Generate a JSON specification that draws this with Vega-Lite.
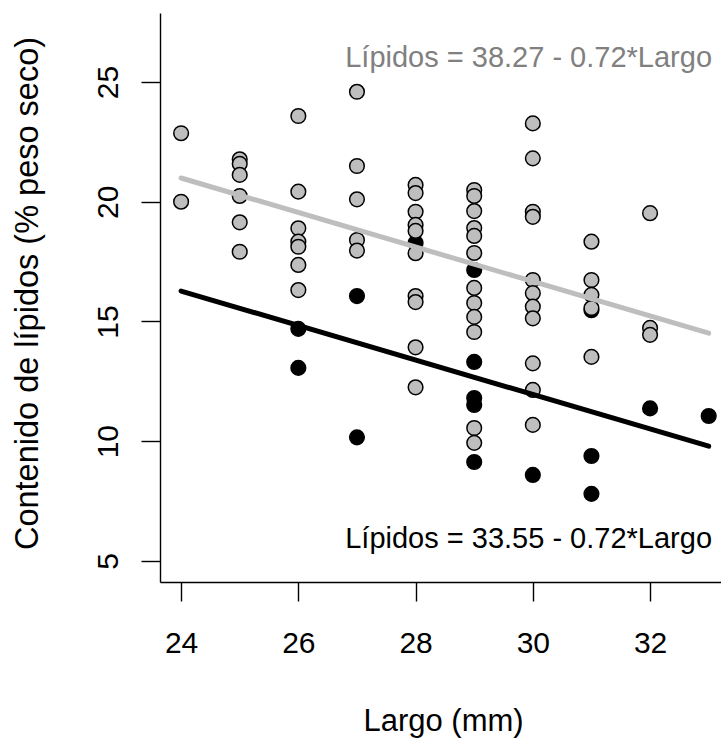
{
  "$schema": "https://vega.github.io/schema/vega-lite/v6.json",
  "width": 561,
  "height": 569,
  "autosize": {"type": "none"},
  "padding": {"left": 160, "top": 13, "right": 0, "bottom": 158},
  "background": "white",
  "config": {
    "view": {"stroke": null},
    "font": "Liberation Sans",
    "axis": {
      "grid": false,
      "domainColor": "#000000",
      "domainWidth": 1.4,
      "tickColor": "#000000",
      "tickWidth": 1.4,
      "tickSize": 19,
      "labelFont": "Liberation Sans",
      "labelFontSize": 30,
      "labelColor": "#000000",
      "titleFont": "Liberation Sans",
      "titleFontSize": 31,
      "titleFontWeight": "normal",
      "titleColor": "#000000"
    }
  },
  "datasets": {
    "puntos": [
      {"grupo": "negro", "largo": 26, "lipidos": 14.69},
      {"grupo": "negro", "largo": 26, "lipidos": 13.06},
      {"grupo": "negro", "largo": 27, "lipidos": 16.06},
      {"grupo": "negro", "largo": 27, "lipidos": 10.16},
      {"grupo": "negro", "largo": 28, "lipidos": 18.28},
      {"grupo": "negro", "largo": 29, "lipidos": 17.15},
      {"grupo": "negro", "largo": 29, "lipidos": 13.31},
      {"grupo": "negro", "largo": 29, "lipidos": 11.80},
      {"grupo": "negro", "largo": 29, "lipidos": 11.51},
      {"grupo": "negro", "largo": 29, "lipidos": 9.13},
      {"grupo": "negro", "largo": 30, "lipidos": 8.59},
      {"grupo": "negro", "largo": 31, "lipidos": 15.47},
      {"grupo": "negro", "largo": 31, "lipidos": 9.38},
      {"grupo": "negro", "largo": 31, "lipidos": 7.80},
      {"grupo": "negro", "largo": 32, "lipidos": 11.37},
      {"grupo": "negro", "largo": 33, "lipidos": 11.05},
      {"grupo": "gris", "largo": 24, "lipidos": 22.86},
      {"grupo": "gris", "largo": 24, "lipidos": 20.00},
      {"grupo": "gris", "largo": 25, "lipidos": 21.77},
      {"grupo": "gris", "largo": 25, "lipidos": 21.58},
      {"grupo": "gris", "largo": 25, "lipidos": 21.12},
      {"grupo": "gris", "largo": 25, "lipidos": 20.24},
      {"grupo": "gris", "largo": 25, "lipidos": 19.14},
      {"grupo": "gris", "largo": 25, "lipidos": 17.91},
      {"grupo": "gris", "largo": 26, "lipidos": 23.58},
      {"grupo": "gris", "largo": 26, "lipidos": 20.42},
      {"grupo": "gris", "largo": 26, "lipidos": 18.89},
      {"grupo": "gris", "largo": 26, "lipidos": 18.33},
      {"grupo": "gris", "largo": 26, "lipidos": 18.12},
      {"grupo": "gris", "largo": 26, "lipidos": 17.36},
      {"grupo": "gris", "largo": 26, "lipidos": 16.31},
      {"grupo": "gris", "largo": 27, "lipidos": 24.59},
      {"grupo": "gris", "largo": 27, "lipidos": 21.49},
      {"grupo": "gris", "largo": 27, "lipidos": 20.10},
      {"grupo": "gris", "largo": 27, "lipidos": 18.40},
      {"grupo": "gris", "largo": 27, "lipidos": 17.96},
      {"grupo": "gris", "largo": 28, "lipidos": 20.70},
      {"grupo": "gris", "largo": 28, "lipidos": 20.36},
      {"grupo": "gris", "largo": 28, "lipidos": 19.58},
      {"grupo": "gris", "largo": 28, "lipidos": 19.03},
      {"grupo": "gris", "largo": 28, "lipidos": 18.78},
      {"grupo": "gris", "largo": 28, "lipidos": 17.85},
      {"grupo": "gris", "largo": 28, "lipidos": 16.06},
      {"grupo": "gris", "largo": 28, "lipidos": 15.81},
      {"grupo": "gris", "largo": 28, "lipidos": 13.92},
      {"grupo": "gris", "largo": 28, "lipidos": 12.25},
      {"grupo": "gris", "largo": 29, "lipidos": 20.49},
      {"grupo": "gris", "largo": 29, "lipidos": 20.24},
      {"grupo": "gris", "largo": 29, "lipidos": 19.61},
      {"grupo": "gris", "largo": 29, "lipidos": 18.90},
      {"grupo": "gris", "largo": 29, "lipidos": 18.57},
      {"grupo": "gris", "largo": 29, "lipidos": 17.86},
      {"grupo": "gris", "largo": 29, "lipidos": 16.40},
      {"grupo": "gris", "largo": 29, "lipidos": 15.77},
      {"grupo": "gris", "largo": 29, "lipidos": 15.19},
      {"grupo": "gris", "largo": 29, "lipidos": 14.56},
      {"grupo": "gris", "largo": 29, "lipidos": 10.55},
      {"grupo": "gris", "largo": 29, "lipidos": 9.93},
      {"grupo": "gris", "largo": 30, "lipidos": 23.27},
      {"grupo": "gris", "largo": 30, "lipidos": 21.81},
      {"grupo": "gris", "largo": 30, "lipidos": 19.58},
      {"grupo": "gris", "largo": 30, "lipidos": 19.37},
      {"grupo": "gris", "largo": 30, "lipidos": 16.73},
      {"grupo": "gris", "largo": 30, "lipidos": 16.18},
      {"grupo": "gris", "largo": 30, "lipidos": 15.62},
      {"grupo": "gris", "largo": 30, "lipidos": 15.13},
      {"grupo": "gris", "largo": 30, "lipidos": 13.25},
      {"grupo": "gris", "largo": 30, "lipidos": 12.14},
      {"grupo": "gris", "largo": 30, "lipidos": 10.68},
      {"grupo": "gris", "largo": 31, "lipidos": 18.33},
      {"grupo": "gris", "largo": 31, "lipidos": 16.73},
      {"grupo": "gris", "largo": 31, "lipidos": 16.11},
      {"grupo": "gris", "largo": 31, "lipidos": 15.56},
      {"grupo": "gris", "largo": 31, "lipidos": 13.52},
      {"grupo": "gris", "largo": 32, "lipidos": 19.52},
      {"grupo": "gris", "largo": 32, "lipidos": 14.73},
      {"grupo": "gris", "largo": 32, "lipidos": 14.44}
    ],
    "lineas": [
      {"grupo": "gris", "largo": 24, "lipidos": 20.99},
      {"grupo": "gris", "largo": 33, "lipidos": 14.51},
      {"grupo": "negro", "largo": 24, "lipidos": 16.27},
      {"grupo": "negro", "largo": 33, "lipidos": 9.79}
    ],
    "textos": [
      {"grupo": "gris", "largo": 33.057, "lipidos": 25.63, "etiqueta": "Lípidos = 38.27 - 0.72*Largo"},
      {"grupo": "negro", "largo": 33.057, "lipidos": 5.54, "etiqueta": "Lípidos = 33.55 - 0.72*Largo"}
    ]
  },
  "encoding": {
    "x": {
      "field": "largo",
      "type": "quantitative",
      "scale": {"domain": [23.64, 33.21], "nice": false, "zero": false},
      "axis": {
        "values": [24, 26, 28, 30, 32],
        "title": "Largo (mm)",
        "labelBaseline": "alphabetic",
        "labelPadding": 51,
        "labelAlign": "center",
        "titleX": 283,
        "titleY": 148,
        "titleAlign": "center",
        "titleBaseline": "alphabetic"
      }
    },
    "y": {
      "field": "lipidos",
      "type": "quantitative",
      "scale": {"domain": [4.12, 27.88], "nice": false, "zero": false},
      "axis": {
        "values": [5, 10, 15, 20, 25],
        "title": "Contenido de lípidos (% peso seco)",
        "titleFontSize": 32.5,
        "labelAngle": -90,
        "labelAlign": "center",
        "labelBaseline": "alphabetic",
        "labelPadding": 24,
        "titleAngle": -90,
        "titleX": -123,
        "titleY": 280,
        "titleAlign": "center",
        "titleBaseline": "alphabetic"
      }
    }
  },
  "layer": [
    {
      "data": {"name": "puntos"},
      "mark": {"type": "circle", "size": 215, "opacity": 1, "stroke": "#000000", "strokeWidth": 1.5},
      "encoding": {
        "fill": {
          "field": "grupo",
          "type": "nominal",
          "scale": {"domain": ["gris", "negro"], "range": ["#BEBEBE", "#000000"]},
          "legend": null
        }
      }
    },
    {
      "data": {"name": "lineas"},
      "mark": {"type": "line", "strokeWidth": 5, "strokeCap": "round"},
      "encoding": {
        "detail": {"field": "grupo", "type": "nominal"},
        "color": {
          "field": "grupo",
          "type": "nominal",
          "scale": {"domain": ["gris", "negro"], "range": ["#BEBEBE", "#000000"]},
          "legend": null
        }
      }
    },
    {
      "data": {"name": "textos"},
      "mark": {"type": "text", "align": "right", "baseline": "alphabetic", "fontSize": 29, "font": "Liberation Sans"},
      "encoding": {
        "text": {"field": "etiqueta", "type": "nominal"},
        "fill": {
          "field": "grupo",
          "type": "nominal",
          "scale": {"domain": ["gris", "negro"], "range": ["#808080", "#000000"]},
          "legend": null
        }
      }
    }
  ],
  "resolve": {"scale": {"color": "independent", "fill": "independent"}}
}
